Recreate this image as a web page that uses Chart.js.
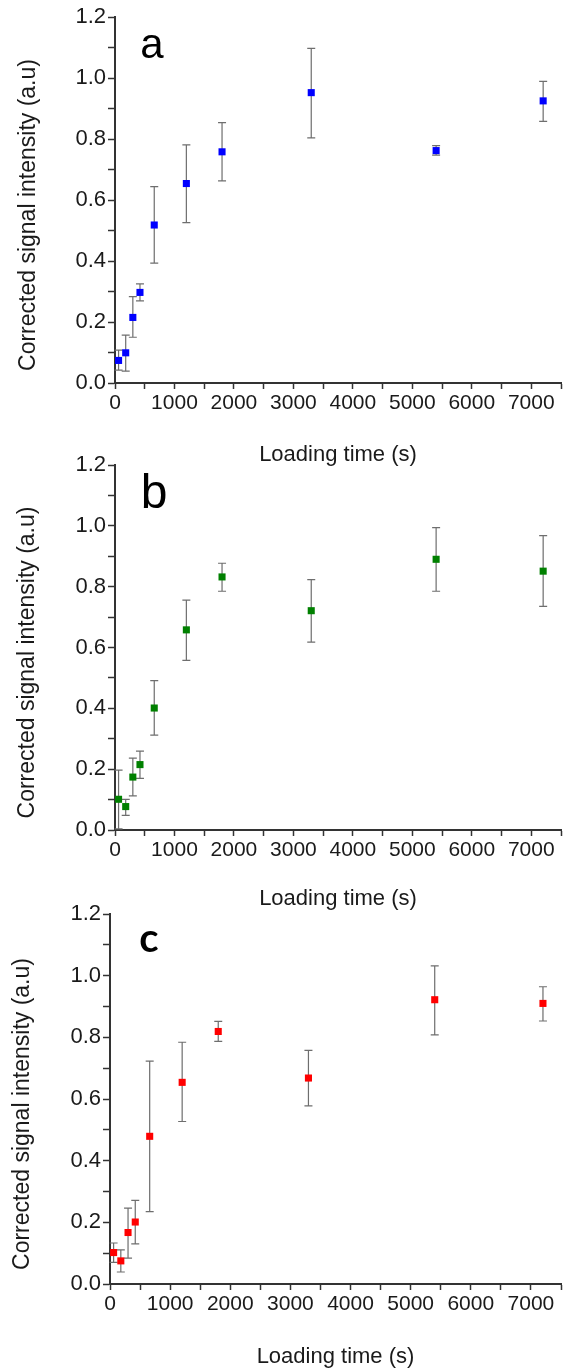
<!DOCTYPE html>
<html>
<head>
<meta charset="utf-8">
<script src="https://cdn.jsdelivr.net/npm/chart.js@4"></script>
<style>
  html, body { margin: 0; padding: 0; background: #fff; }
  body { width: 566px; height: 1372px; position: relative; overflow: hidden; }
  .panel { position: absolute; left: 0; width: 566px; }
</style>
</head>
<body>
<div class="panel" id="boxA" style="top:0px;height:470px"><canvas id="chartA"></canvas></div>
<div class="panel" id="boxB" style="top:448px;height:466px"><canvas id="chartB"></canvas></div>
<div class="panel" id="boxC" style="top:896px;height:476px"><canvas id="chartC"></canvas></div>
<script>
// loading times (s), shared by all three panels
var loadingTimes = [60, 180, 300, 420, 660, 1200, 1800, 3300, 5400, 7200];

// panel a (blue)
var signalA = [0.074, 0.099, 0.215, 0.297, 0.518, 0.654, 0.758, 0.952, 0.762, 0.925];
var errLowA = [0.042, 0.039, 0.150, 0.269, 0.393, 0.526, 0.663, 0.804, 0.747, 0.858];
var errHighA = [0.108, 0.157, 0.283, 0.325, 0.644, 0.781, 0.854, 1.097, 0.778, 0.989];

// panel b (green)
var signalB = [0.101, 0.077, 0.174, 0.215, 0.401, 0.658, 0.832, 0.721, 0.890, 0.851];
var errLowB = [0.004, 0.048, 0.112, 0.170, 0.312, 0.558, 0.785, 0.618, 0.785, 0.735];
var errHighB = [0.197, 0.101, 0.236, 0.259, 0.491, 0.756, 0.877, 0.823, 0.994, 0.968];

// panel c (red)
var signalC = [0.102, 0.075, 0.167, 0.201, 0.479, 0.654, 0.819, 0.668, 0.922, 0.910];
var errLowC = [0.070, 0.039, 0.084, 0.130, 0.235, 0.527, 0.787, 0.578, 0.808, 0.853];
var errHighC = [0.133, 0.111, 0.246, 0.271, 0.723, 0.784, 0.852, 0.758, 1.032, 0.964];

var yTickLabels = ['0.0', '0.2', '0.4', '0.6', '0.8', '1.0', '1.2'];
var xTickLabels = ['0', '1000', '2000', '3000', '4000', '5000', '6000', '7000'];

var FONT = 'Liberation Sans, Arial, sans-serif';

// draws the error bars behind the markers
var errorBarPlugin = {
    id: 'errorBars',
    beforeDatasetsDraw: function (chart) {
        var o = chart.options.plugins.errorBars;
        var ctx = chart.ctx;
        var xs = chart.scales.x, ys = chart.scales.y;
        ctx.save();
        ctx.strokeStyle = '#6e6e6e';
        ctx.lineWidth = 1.2;
        for (var i = 0; i < loadingTimes.length; i++) {
            var px = xs.getPixelForValue(loadingTimes[i]);
            var lo = ys.getPixelForValue(o.low[i]);
            var hi = ys.getPixelForValue(o.high[i]);
            ctx.beginPath();
            ctx.moveTo(px, lo); ctx.lineTo(px, hi);
            ctx.moveTo(px - 4, lo); ctx.lineTo(px + 4, lo);
            ctx.moveTo(px - 4, hi); ctx.lineTo(px + 4, hi);
            ctx.stroke();
        }
        ctx.restore();
    }
};

// panel letter and rotated y title
var labelsPlugin = {
    id: 'panelLabels',
    afterDraw: function (chart) {
        var o = chart.options.plugins.panelLabels;
        var ctx = chart.ctx;
        var area = chart.chartArea;
        ctx.save();
        ctx.fillStyle = '#000';
        ctx.font = o.letterFont;
        ctx.textAlign = 'center';
        ctx.textBaseline = 'alphabetic';
        ctx.fillText(o.letter, o.letterX, o.letterY);

        ctx.fillStyle = '#1a1a1a';
        ctx.font = '23px ' + FONT;
        ctx.textBaseline = 'middle';
        ctx.translate(o.titleX, (area.top + area.bottom) / 2 + 15);
        ctx.rotate(-Math.PI / 2);
        ctx.fillText('Corrected signal intensity (a.u)', 0, 0);
        ctx.restore();
    }
};

function makeChart(canvasId, signal, low, high, color, opts) {
    var ctx = document.getElementById(canvasId).getContext('2d');
    return new Chart(ctx, {
        type: 'scatter',
        data: {
            datasets: [{
                data: loadingTimes.map(function (t, i) { return { x: t, y: signal[i] }; }),
                backgroundColor: color,
                borderColor: color,
                borderWidth: 0,
                pointStyle: 'rect',
                pointRadius: 5,
                pointHoverRadius: 5
            }]
        },
        options: {
            responsive: true,
            maintainAspectRatio: false,
            animation: false,
            events: [],
            layout: { padding: { top: opts.top, right: 0, left: 0, bottom: 0 } },
            plugins: {
                legend: { display: false },
                tooltip: { enabled: false },
                errorBars: { low: low, high: high },
                panelLabels: opts.labels
            },
            scales: {
                x: {
                    type: 'linear',
                    min: 0,
                    max: 7500,
                    grid: { drawOnChartArea: false, drawTicks: true, tickLength: 6, tickColor: '#333', tickWidth: 1.5 },
                    border: { color: '#333', width: 2 },
                    ticks: {
                        stepSize: 500,
                        autoSkip: false,
                        maxRotation: 0,
                        padding: 2,
                        color: '#1a1a1a',
                        font: { family: FONT, size: 21 },
                        callback: function (v) {
                            return v % 1000 === 0 ? xTickLabels[v / 1000] : '';
                        }
                    },
                    title: {
                        display: true,
                        text: 'Loading time (s)',
                        color: '#1a1a1a',
                        font: { family: FONT, size: 22 },
                        padding: { top: 0, bottom: 2 }
                    },
                    afterFit: function (s) { s.height = opts.xHeight; }
                },
                y: {
                    type: 'linear',
                    min: 0,
                    max: 1.2,
                    grid: { drawOnChartArea: false, drawTicks: true, tickLength: 7, tickColor: '#333', tickWidth: 1.5 },
                    border: { color: '#333', width: 2 },
                    ticks: {
                        stepSize: 0.1,
                        autoSkip: false,
                        padding: 2,
                        color: '#1a1a1a',
                        font: { family: FONT, size: 22 },
                        callback: function (v) {
                            var k = Math.round(v * 10);
                            return k % 2 === 0 ? yTickLabels[k / 2] : '';
                        }
                    },
                    afterFit: function (s) { s.width = opts.yWidth; }
                }
            }
        },
        plugins: [errorBarPlugin, labelsPlugin]
    });
}

makeChart('chartA', signalA, errLowA, errHighA, '#0000ff', {
    top: 17, xHeight: 87, yWidth: 115,
    labels: { letter: 'a', letterX: 152, letterY: 58, letterFont: '42px ' + FONT, titleX: 29 }
});
makeChart('chartB', signalB, errLowB, errHighB, '#008000', {
    top: 17, xHeight: 84, yWidth: 115,
    labels: { letter: 'b', letterX: 154, letterY: 60, letterFont: '48px ' + FONT, titleX: 28 }
});
makeChart('chartC', signalC, errLowC, errHighC, '#ff0000', {
    top: 18, xHeight: 88, yWidth: 110,
    labels: { letter: 'c', letterX: 149, letterY: 56, letterFont: 'bold 40px Lato, ' + FONT, titleX: 23 }
});
</script>
</body>
</html>
